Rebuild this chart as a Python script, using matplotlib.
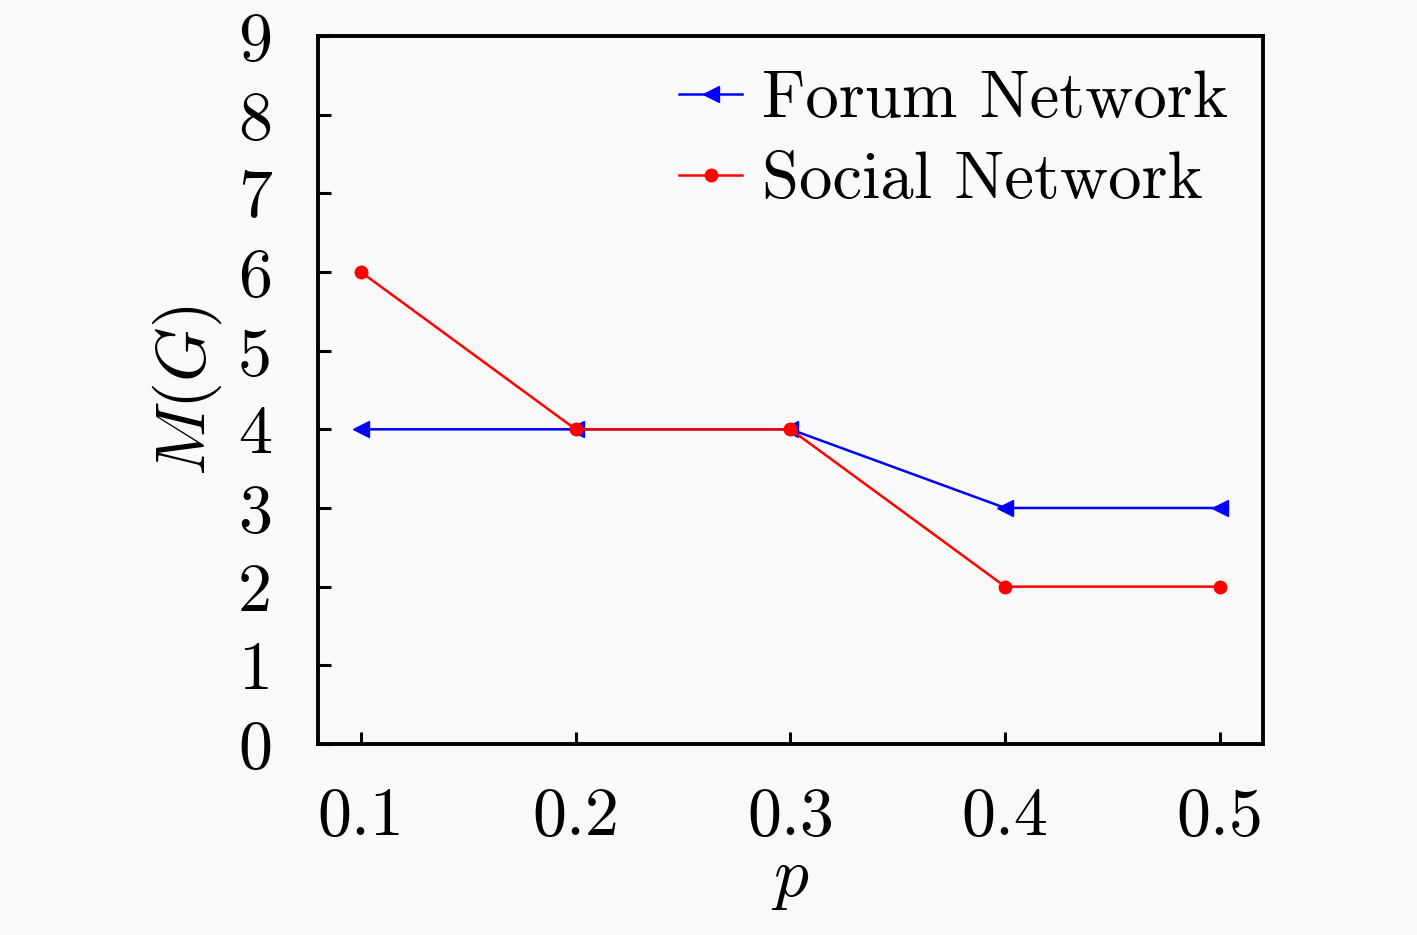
import matplotlib
matplotlib.use("Agg")
import matplotlib.pyplot as plt

p = [0.1, 0.2, 0.3, 0.4, 0.5]
forum = [4, 4, 4, 3, 3]
social = [6, 4, 4, 2, 2]
xticks = [0.1, 0.2, 0.3, 0.4, 0.5]
yticks = list(range(0, 10))

plt.rcParams['font.family'] = 'serif'
plt.rcParams['font.serif'] = ['cmr10']
plt.rcParams['mathtext.fontset'] = 'cm'
plt.rcParams['axes.unicode_minus'] = False

bg = '#f9f9f9'
fig = plt.figure(figsize=(14.17, 9.35), dpi=100, facecolor=bg)
ax = fig.add_axes([0.2244, 0.2043, 0.6669, 0.7572], facecolor=bg)

ax.plot(p, forum, color='blue', marker='<', markersize=11, linewidth=1.8,
        label='Forum Network')
ax.plot(p, social, color='red', marker='o', markersize=9, linewidth=1.8,
        label='Social Network')

ax.set_xlim(0.08, 0.52)
ax.set_ylim(0, 9)
ax.set_xticks(xticks)
ax.set_xticklabels([str(v) for v in xticks])
ax.set_yticks(yticks)
ax.tick_params(direction='in', length=9, width=2.2, labelsize=49)
ax.tick_params(axis='y', pad=33)
ax.tick_params(axis='x', pad=31)
for s in ax.spines.values():
    s.set_linewidth(2.8)

ax.set_xlabel(r'$p$', fontsize=50, labelpad=2)
ax.set_ylabel(r'$M(G)$', fontsize=50, labelpad=10)

ax.legend(loc='upper right', fontsize=48, frameon=False, handlelength=0.95,
          handletextpad=0.3, labelspacing=0.32, borderaxespad=0.12)

fig.savefig('out.png', dpi=100, facecolor=bg)
